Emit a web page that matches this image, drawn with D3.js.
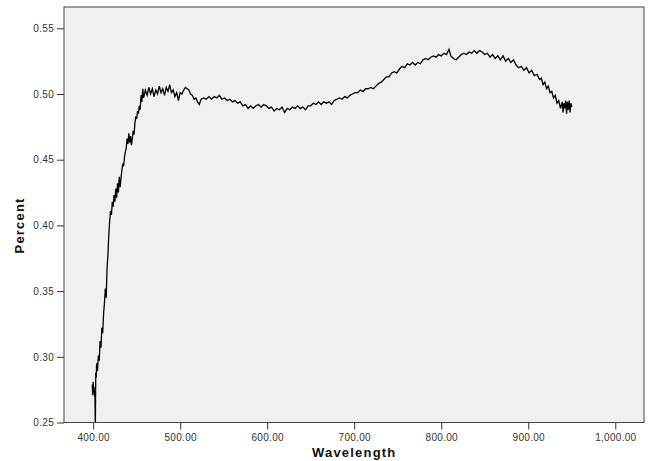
<!DOCTYPE html>
<html>
<head>
<meta charset="utf-8">
<script src="https://cdn.jsdelivr.net/npm/d3@7"></script>
<style>
  body { margin: 0; background: #fff; }
  svg { display: block; }
  .tick text { font-family: Arial, "Liberation Sans", sans-serif; font-size: 10px; fill: #333; letter-spacing: 0.3px; }
  .axis-title { font-family: Arial, "Liberation Sans", sans-serif; font-size: 13px; font-weight: bold; fill: #111; letter-spacing: 1.2px; }
</style>
</head>
<body>
<svg width="649" height="461"></svg>
<script>
// Spectrum (wavelength in nm, reflectance as fraction)
var wavelength = [
  399, 399.5, 400, 400.5, 401, 401.5, 402, 402.5, 403, 403.5, 404, 405, 406, 407, 408, 409, 410,
  411, 412, 413, 414, 415, 416, 417, 418, 419, 420, 421, 422, 423, 424, 425, 426, 427, 428, 429, 430,
  431, 432, 433, 434, 435, 436, 437, 438, 439, 440, 441, 442, 443, 444, 445, 446, 447, 448, 449, 450,
  451, 452, 453, 454, 455, 456, 457, 458,
  460, 462, 464, 466, 468, 470, 472, 474, 476, 478, 480, 482, 484, 486, 488, 490, 492, 494, 496, 498,
  500, 502, 504, 506, 508, 510, 512, 514, 516, 518, 520, 522, 524,
  527, 530, 533, 536, 539, 542, 545, 548, 551, 554, 557, 560, 563, 566, 569, 572, 575, 578,
  581, 584, 587, 590, 593, 596, 599, 602, 605, 608, 611, 614, 617, 620, 623, 626, 629, 632, 635, 638,
  641, 644, 647, 650, 653, 656, 659, 662, 665, 668, 671, 674, 677, 680, 683, 686, 689, 692, 695, 698,
  701, 704, 707, 710, 713, 716, 719, 722, 725, 728, 731, 734, 737, 740, 743, 746, 749, 752, 755, 758,
  761, 764, 767, 770, 773, 776, 779, 782, 785, 788, 791, 794, 797, 800, 803, 806, 809, 811, 814, 817,
  820, 823, 826, 829, 832, 835, 838, 841, 844, 847, 850, 853, 856, 859, 862, 865, 868, 871, 874, 877,
  880, 883, 886, 889, 892, 895, 898, 901, 904, 907, 910, 913, 915, 917, 919, 921, 923, 925, 927, 929,
  931, 933, 935, 937, 939, 940, 941, 942, 943, 944, 945, 946, 947, 948, 949, 950
];
var percent = [
  0.279, 0.271, 0.281, 0.273, 0.277, 0.270, 0.274, 0.246, 0.288, 0.284, 0.295, 0.289, 0.301, 0.297, 0.312, 0.307, 0.322,
  0.318, 0.333, 0.341, 0.352, 0.345, 0.368, 0.378, 0.393, 0.404, 0.411, 0.408, 0.418, 0.414, 0.423, 0.418, 0.428, 0.421, 0.432, 0.425, 0.437,
  0.429, 0.436, 0.442, 0.447, 0.445, 0.452, 0.456, 0.459, 0.466, 0.462, 0.470, 0.463, 0.468, 0.461, 0.466, 0.472, 0.469, 0.478, 0.483, 0.481,
  0.487, 0.485, 0.491, 0.488, 0.499, 0.494, 0.504, 0.497,
  0.503, 0.499, 0.505, 0.500, 0.504, 0.498, 0.503, 0.500, 0.506, 0.501, 0.504, 0.499, 0.505, 0.502, 0.507, 0.501, 0.503, 0.498, 0.501, 0.495,
  0.501, 0.500, 0.503, 0.505, 0.504, 0.503, 0.500, 0.499, 0.496, 0.497, 0.494, 0.492, 0.496,
  0.497, 0.496, 0.498, 0.496, 0.498, 0.497, 0.499, 0.496, 0.497, 0.495, 0.496, 0.494, 0.495, 0.493, 0.494, 0.491, 0.492, 0.489,
  0.491, 0.489, 0.491, 0.492, 0.490, 0.492, 0.491, 0.489, 0.490, 0.487, 0.489, 0.488, 0.490, 0.486, 0.489, 0.488, 0.490, 0.489, 0.491, 0.489,
  0.490, 0.488, 0.491, 0.491, 0.493, 0.492, 0.494, 0.492, 0.494, 0.493, 0.494, 0.492, 0.495, 0.496, 0.497, 0.496, 0.498, 0.497, 0.499, 0.500,
  0.501, 0.501, 0.503, 0.502, 0.504, 0.504, 0.505, 0.504, 0.506, 0.508, 0.509, 0.511, 0.513, 0.513, 0.516, 0.517, 0.516, 0.519, 0.521, 0.520,
  0.523, 0.522, 0.524, 0.522, 0.524, 0.523, 0.526, 0.527, 0.526, 0.528, 0.529, 0.528, 0.530, 0.529, 0.531, 0.530, 0.534, 0.529, 0.527, 0.526,
  0.528, 0.530, 0.531, 0.530, 0.532, 0.531, 0.533, 0.531, 0.533, 0.532, 0.530, 0.531, 0.528, 0.530, 0.527, 0.529, 0.526, 0.529, 0.525, 0.527,
  0.524, 0.526, 0.522, 0.520, 0.521, 0.518, 0.520, 0.516, 0.518, 0.514, 0.515, 0.511, 0.512, 0.507, 0.509, 0.504, 0.506, 0.501, 0.502, 0.497,
  0.499, 0.493, 0.495, 0.489, 0.494, 0.486, 0.493, 0.489, 0.495, 0.485, 0.494, 0.488, 0.495, 0.486, 0.493, 0.490
];
var xTicks = [400, 500, 600, 700, 800, 900, 1000];
var yTicks = [0.25, 0.30, 0.35, 0.40, 0.45, 0.50, 0.55];

var svg = d3.select("svg"),
    margin = {top: 7, right: 5, bottom: 38.5, left: 64},
    width = +svg.attr("width") - margin.left - margin.right,
    height = +svg.attr("height") - margin.top - margin.bottom;

var x = d3.scaleLinear().domain([366.5, 1033]).range([0, width]),
    y = d3.scaleLinear().domain([0.25, 0.5662]).range([height, 0]);

var g = svg.append("g")
  .attr("transform", "translate(" + margin.left + "," + margin.top + ")");

// plot background
g.append("rect")
  .attr("width", width)
  .attr("height", height)
  .attr("fill", "#f0f0f0");

g.append("clipPath").attr("id", "plot-clip")
  .append("rect").attr("width", width).attr("height", height);

var data = wavelength.map(function(w, i) { return {w: w, p: percent[i]}; });

var line = d3.line()
  .x(function(d) { return x(d.w); })
  .y(function(d) { return y(d.p); });

g.append("path")
  .datum(data)
  .attr("clip-path", "url(#plot-clip)")
  .attr("fill", "none")
  .attr("stroke", "#000")
  .attr("stroke-width", 1.3)
  .attr("stroke-linejoin", "miter")
  .attr("d", line);

// frame
g.append("rect")
  .attr("width", width)
  .attr("height", height)
  .attr("fill", "none")
  .attr("stroke", "#444")
  .attr("stroke-width", 1);

var fmtX = d3.format(",.2f"), fmtY = d3.format(".2f");

var xAxis = g.append("g")
  .attr("transform", "translate(0," + height + ")")
  .call(d3.axisBottom(x).tickValues(xTicks).tickSize(7).tickPadding(4).tickFormat(fmtX));

var yAxis = g.append("g")
  .call(d3.axisLeft(y).tickValues(yTicks).tickSize(7).tickPadding(3).tickFormat(fmtY));

[xAxis, yAxis].forEach(function(a) {
  a.select(".domain").remove();
  a.selectAll(".tick line").attr("stroke", "#333");
});

// axis titles
svg.append("text")
  .attr("class", "axis-title")
  .attr("x", margin.left + x(700))
  .attr("y", 457)
  .attr("text-anchor", "middle")
  .text("Wavelength");

svg.append("text")
  .attr("class", "axis-title")
  .attr("transform", "translate(24," + (margin.top + y(0.40)) + ") rotate(-90)")
  .attr("text-anchor", "middle")
  .text("Percent");
</script>
</body>
</html>
